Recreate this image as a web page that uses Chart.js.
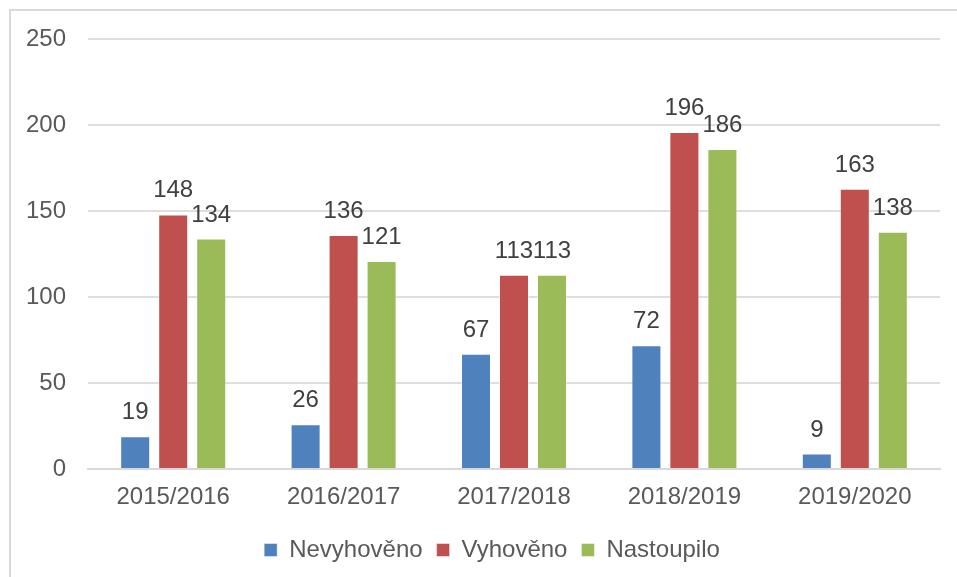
<!DOCTYPE html>
<html>
<head>
<meta charset="utf-8">
<script src="https://cdn.jsdelivr.net/npm/chart.js@4.4.1/dist/chart.umd.min.js"></script>
<style>
  html, body { margin: 0; padding: 0; background: #fff; overflow: hidden; }
  #frame { position: absolute; left: 9px; top: 9px; width: 960px; height: 600px; border: 2px solid #d9d9d9; box-sizing: border-box; }
  #wrap { position: absolute; left: 0; top: 0; width: 957px; height: 577px; }
</style>
</head>
<body>
<div id="frame"></div>
<div id="wrap"><canvas id="chart"></canvas></div>
<script>
const YEARS = ["2015/2016", "2016/2017", "2017/2018", "2018/2019", "2019/2020"];
const NEVYHOVENO = [19, 26, 67, 72, 9];
const VYHOVENO = [148, 136, 113, 196, 163];
const NASTOUPILO = [134, 121, 113, 186, 138];
const Y_MAX = 250;
const Y_STEP = 50;

const FONT = "'Liberation Sans', Arial, sans-serif";
const FONT_SIZE = 24;

const valueLabels = {
  id: "valueLabels",
  afterDatasetsDraw(chart) {
    const ctx = chart.ctx;
    ctx.save();
    ctx.font = `${FONT_SIZE}px ${FONT}`;
    ctx.fillStyle = "#404040";
    ctx.textAlign = "center";
    ctx.textBaseline = "alphabetic";
    chart.data.datasets.forEach((ds, i) => {
      const meta = chart.getDatasetMeta(i);
      meta.data.forEach((bar, j) => {
        ctx.fillText(String(ds.data[j]), bar.x, bar.y - 17);
      });
    });
    ctx.restore();
  }
};

// nudge the legend a bit to the right, like in the original
const legendShift = {
  id: "legendShift",
  afterLayout(chart) {
    if (!chart.legend) return;
    chart.legend.left += 22;
    chart.legend.right += 22;
  }
};

function makeSet(label, data, color) {
  return {
    label,
    data,
    backgroundColor: color,
    borderColor: "rgba(255,255,255,0.45)",
    borderWidth: 1,
    categoryPercentage: 0.669,
    barPercentage: 0.79
  };
}

new Chart(document.getElementById("chart"), {
  type: "bar",
  data: {
    labels: YEARS,
    datasets: [
      makeSet("Nevyhověno", NEVYHOVENO, "#4F81BD"),
      makeSet("Vyhověno", VYHOVENO, "#C0504D"),
      makeSet("Nastoupilo", NASTOUPILO, "#9BBB59")
    ]
  },
  options: {
    responsive: true,
    maintainAspectRatio: false,
    animation: false,
    layout: { padding: { top: 39, right: 17, left: 0, bottom: 5 } },
    plugins: {
      tooltip: { enabled: false },
      legend: {
        position: "bottom",
        labels: {
          font: { family: FONT, size: FONT_SIZE },
          color: "#595959",
          boxWidth: 13,
          boxHeight: 13,
          padding: 14
        }
      }
    },
    scales: {
      x: {
        grid: { display: false, drawTicks: false },
        border: { color: "#d9d9d9", width: 2 },
        ticks: { font: { family: FONT, size: FONT_SIZE }, color: "#595959", padding: 14 },
        afterFit(scale) { scale.height = 55; }
      },
      y: {
        min: 0,
        max: Y_MAX,
        grid: { color: "#dedede", lineWidth: 2, drawTicks: false },
        border: { display: false },
        ticks: { stepSize: Y_STEP, font: { family: FONT, size: FONT_SIZE }, color: "#595959", padding: 22 },
        afterFit(scale) { scale.width = 88; }
      }
    }
  },
  plugins: [valueLabels, legendShift]
});
</script>
</body>
</html>
